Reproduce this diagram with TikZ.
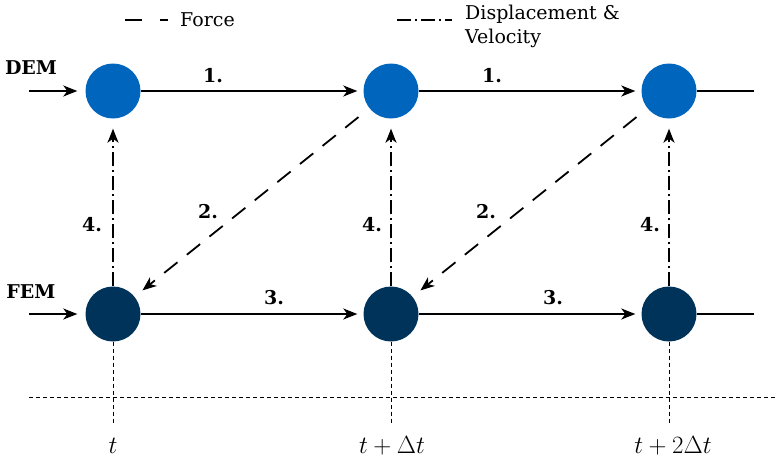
\documentclass[tikz,border=0pt]{standalone}
\usepackage{fontspec}
\setmainfont{DejaVu Serif}
\usetikzlibrary{arrows.meta}
\definecolor{dembl}{HTML}{0065BD}
\definecolor{femb}{HTML}{003359}
\tikzset{
  demnode/.style={circle,fill=dembl,minimum size=55pt,inner sep=0pt},
  femnode/.style={circle,fill=femb,minimum size=55pt,inner sep=0pt},
  tip/.style={-{Stealth[length=14pt,width=11pt,inset=4pt]}},
  flow/.style={line width=1.8pt,tip,shorten >=6pt},
  forceln/.style={line width=1.8pt,dash pattern=on 17pt off 12pt},
  displn/.style={line width=1.8pt,dash pattern=on 14pt off 4pt on 2pt off 4pt},
  timeln/.style={line width=0.9pt,dash pattern=on 4pt off 3pt},
  num/.style={font=\fontsize{19}{22}\selectfont\bfseries},
  sidelbl/.style={font=\fontsize{19}{22}\selectfont\bfseries},
  leg/.style={font=\fontsize{19}{24}\selectfont,align=left,anchor=west,inner sep=0pt},
  tlbl/.style={font=\fontsize{25}{28}\selectfont}
}
\begin{document}
\begin{tikzpicture}[x=1pt,y=-1pt]
\useasboundingbox (0,0) rectangle (777,461);
% legend
\coordinate (lfa) at (125,20);
\coordinate (lfb) at (168,20);
\draw[line width=1.8pt,dash pattern=on 17pt off 18pt] (lfa) -- (lfb);
\node[leg] (lforce) at (180,20) {Force};
\coordinate (lda) at (397,20);
\coordinate (ldb) at (452,20);
\draw[displn] (lda) -- (ldb);
\node[leg] (ldisp) at (465,26) {Displacement \&\\Velocity};
% nodes
\node[demnode] (D1) at (113,91) {};
\node[demnode] (D2) at (391,91) {};
\node[demnode] (D3) at (669,91) {};
\node[femnode] (F1) at (113,314) {};
\node[femnode] (F2) at (391,314) {};
\node[femnode] (F3) at (669,314) {};
\node[sidelbl] (dem) at (31,68) {DEM};
\node[sidelbl] (fem) at (31,292) {FEM};
\coordinate (din) at (29,91);
\coordinate (fin) at (29,314);
\coordinate (dout) at (754,91);
\coordinate (fout) at (754,314);
% horizontal flows
\draw[flow,shorten >=8pt] (din) -- (D1);
\draw[flow,shorten >=8pt] (fin) -- (F1);
\draw[flow] (D1) -- (D2);
\draw[flow] (D2) -- (D3);
\draw[line width=1.8pt] (D3) -- (dout);
\draw[flow] (F1) -- (F2);
\draw[flow] (F2) -- (F3);
\draw[line width=1.8pt] (F3) -- (fout);
\node[num] (n1a) at (213,76) {1.};
\node[num] (n1b) at (492,76) {1.};
\node[num] (n3a) at (274,298) {3.};
\node[num] (n3b) at (553,298) {3.};
% force (dashed diagonals)
\draw[forceln,tip,shorten <=14pt,shorten >=10pt] (D2) -- (F1);
\draw[forceln,tip,shorten <=14pt,shorten >=10pt] (D3) -- (F2);
\node[num] (n2a) at (208,212) {2.};
\node[num] (n2b) at (486,212) {2.};
% displacement (dash-dot verticals)
\draw[displn,tip,shorten >=10pt] (F1) -- (D1);
\draw[displn,tip,shorten >=10pt] (F2) -- (D2);
\draw[displn,tip,shorten >=10pt] (F3) -- (D3);
\node[num] (n4a) at (92,225) {4.};
\node[num] (n4b) at (372,225) {4.};
\node[num] (n4c) at (650,225) {4.};
% time axis
\coordinate (t1) at (113,425);
\coordinate (t2) at (391,425);
\coordinate (t3) at (669,425);
\coordinate (ha) at (29,397);
\coordinate (hb) at (777,397);
\draw[timeln] (F1) -- (t1);
\draw[timeln] (F2) -- (t2);
\draw[timeln] (F3) -- (t3);
\draw[timeln] (ha) -- (hb);
\node[tlbl] (tl1) at (113,446) {$t$};
\node[tlbl] (tl2) at (392,446) {$t+\Delta t$};
\node[tlbl] (tl3) at (673,446) {$t+2\Delta t$};
\end{tikzpicture}
\end{document}
